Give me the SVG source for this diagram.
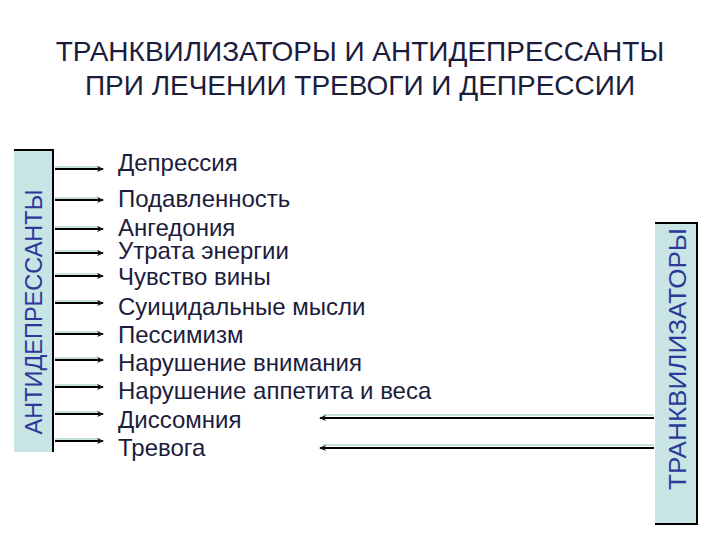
<svg xmlns="http://www.w3.org/2000/svg" width="720" height="540" viewBox="0 0 720 540">
<defs>
<marker id="ah" markerWidth="8" markerHeight="8" refX="6" refY="4" orient="auto" markerUnits="userSpaceOnUse">
<path d="M0,1 L7,4 L0,7 L2,4 Z" fill="#111"/>
</marker>
<style>
.title{font-family:"Liberation Sans",Arial,sans-serif;font-size:28px;fill:#1c1c3c;text-anchor:middle}
.item{font-family:"Liberation Sans",Arial,sans-serif;font-size:24px;fill:#1c1c3c}
.vlab{font-family:"Liberation Sans",Arial,sans-serif;font-size:23px;fill:#2b3a9a;text-anchor:middle}
.box{fill:#c9e4e4}
.edge{fill:none;stroke:#000;stroke-width:2}
.sh{stroke:#c6e0dc;stroke-width:2}
.ln{stroke:#000;stroke-width:2;marker-end:url(#ah)}
</style>
</defs>
<rect width="720" height="540" fill="#fff"/>
<g id="title">
<text class="title" x="360" y="61">ТРАНКВИЛИЗАТОРЫ И АНТИДЕПРЕССАНТЫ</text>
<text class="title" x="360" y="95">ПРИ ЛЕЧЕНИИ ТРЕВОГИ И ДЕПРЕССИИ</text>
</g>
<g id="antidepressants">
<rect class="box" x="14" y="150" width="39" height="302"/>
<polyline class="edge" points="14,150 53,150 53,452"/>
<text class="vlab" transform="translate(42,312) rotate(-90)" textLength="245" lengthAdjust="spacingAndGlyphs">АНТИДЕПРЕССАНТЫ</text>
</g>
<g id="tranquilizers">
<rect class="box" x="655" y="223" width="42" height="301"/>
<polyline class="edge" points="655,223 697,223 697,524 655,524"/>
<text class="vlab" transform="translate(686,359) rotate(-90)" textLength="262" lengthAdjust="spacingAndGlyphs">ТРАНКВИЛИЗАТОРЫ</text>
</g>
<g id="items">
<text class="item" x="118" y="171">Депрессия</text>
<text class="item" x="118" y="207">Подавленность</text>
<text class="item" x="118" y="236">Ангедония</text>
<text class="item" x="118" y="259">Утрата энергии</text>
<text class="item" x="118" y="285">Чувство вины</text>
<text class="item" x="118" y="315">Суицидальные мысли</text>
<text class="item" x="118" y="343">Пессимизм</text>
<text class="item" x="118" y="371">Нарушение внимания</text>
<text class="item" x="118" y="399">Нарушение аппетита и веса</text>
<text class="item" x="118" y="428">Диссомния</text>
<text class="item" x="118" y="456">Тревога</text>
</g>
<g id="connectors">
<g class="sh">
<line x1="55" y1="167" x2="100" y2="167"/>
<line x1="55" y1="198" x2="100" y2="198"/>
<line x1="55" y1="227" x2="100" y2="227"/>
<line x1="55" y1="251" x2="100" y2="251"/>
<line x1="55" y1="274" x2="100" y2="274"/>
<line x1="55" y1="301" x2="100" y2="301"/>
<line x1="55" y1="332" x2="100" y2="332"/>
<line x1="55" y1="358" x2="100" y2="358"/>
<line x1="55" y1="385" x2="100" y2="385"/>
<line x1="55" y1="412" x2="100" y2="412"/>
<line x1="55" y1="439" x2="100" y2="439"/>
<line x1="654" y1="415" x2="323" y2="415"/>
<line x1="654" y1="445" x2="323" y2="445"/>
</g>
<line class="ln" x1="55" y1="169" x2="103" y2="169"/>
<line class="ln" x1="55" y1="200" x2="103" y2="200"/>
<line class="ln" x1="55" y1="229" x2="103" y2="229"/>
<line class="ln" x1="55" y1="253" x2="103" y2="253"/>
<line class="ln" x1="55" y1="276" x2="103" y2="276"/>
<line class="ln" x1="55" y1="303" x2="103" y2="303"/>
<line class="ln" x1="55" y1="334" x2="103" y2="334"/>
<line class="ln" x1="55" y1="360" x2="103" y2="360"/>
<line class="ln" x1="55" y1="387" x2="103" y2="387"/>
<line class="ln" x1="55" y1="414" x2="103" y2="414"/>
<line class="ln" x1="55" y1="441" x2="103" y2="441"/>
<line class="ln" x1="654" y1="418" x2="320" y2="418"/>
<line class="ln" x1="654" y1="448" x2="320" y2="448"/>
</g>
</svg>
